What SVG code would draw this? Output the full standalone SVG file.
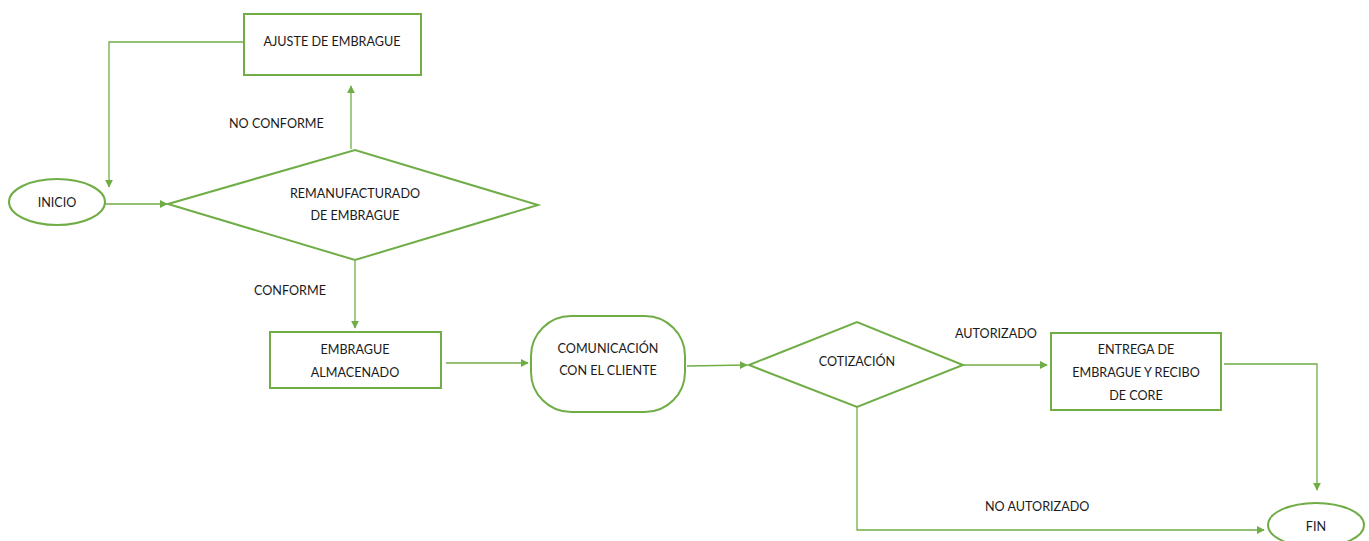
<svg xmlns="http://www.w3.org/2000/svg" width="1369" height="541" viewBox="0 0 1369 541">
<style>
.shape{fill:#fff;stroke:#70AD47;stroke-width:2}
.conn{fill:none;stroke:#70AD47;stroke-width:1.3}
text{font-family:Lato,"Open Sans","Liberation Sans",sans-serif;font-size:12.6px;fill:#1a1a1a;text-anchor:middle}
.lbl{text-anchor:start}
</style>
<defs>
<marker id="arr" viewBox="0 0 10 10" refX="9" refY="5" markerWidth="8" markerHeight="8" markerUnits="userSpaceOnUse" orient="auto">
<path d="M0,0 L10,5 L0,10 z" fill="#70AD47"/>
</marker>
</defs>
<rect width="1369" height="541" fill="#fff"/>
<g id="connectors">
<polyline class="conn" points="243,42 109,42 109,187" marker-end="url(#arr)"/>
<line class="conn" x1="105" y1="204" x2="167" y2="204" marker-end="url(#arr)"/>
<line class="conn" x1="351" y1="149" x2="351" y2="86" marker-end="url(#arr)"/>
<line class="conn" x1="355" y1="261" x2="355" y2="328" marker-end="url(#arr)"/>
<line class="conn" x1="446" y1="363" x2="528" y2="363" marker-end="url(#arr)"/>
<line class="conn" x1="687" y1="366" x2="747" y2="365" marker-end="url(#arr)"/>
<line class="conn" x1="963" y1="365" x2="1047" y2="365" marker-end="url(#arr)"/>
<polyline class="conn" points="1224,364 1317,364 1317,490" marker-end="url(#arr)"/>
<polyline class="conn" points="857,407 857,530 1264,530" marker-end="url(#arr)"/>
</g>
<g id="ajuste">
<rect class="shape" x="244" y="14" width="177" height="61"/>
<text x="332" y="46">AJUSTE DE EMBRAGUE</text>
</g>
<g id="inicio">
<ellipse class="shape" cx="57" cy="202" rx="48" ry="23"/>
<text x="57" y="207">INICIO</text>
</g>
<g id="remanufacturado">
<polygon class="shape" points="168,204 355,150 538,205 355,260"/>
<text x="355" y="198">REMANUFACTURADO</text>
<text x="355" y="220">DE EMBRAGUE</text>
</g>
<g id="lbl-noconforme"><text class="lbl" x="229" y="128">NO CONFORME</text></g>
<g id="lbl-conforme"><text class="lbl" x="254" y="295">CONFORME</text></g>
<g id="almacenado">
<rect class="shape" x="270" y="332" width="171" height="56"/>
<text x="355" y="354">EMBRAGUE</text>
<text x="355" y="377">ALMACENADO</text>
</g>
<g id="comunicacion">
<rect class="shape" x="531" y="316" width="154" height="96" rx="40" ry="40"/>
<text x="608" y="353">COMUNICACIÓN</text>
<text x="608" y="375">CON EL CLIENTE</text>
</g>
<g id="cotizacion">
<polygon class="shape" points="749,365 857,322 963,365 857,407"/>
<text x="857" y="366">COTIZACIÓN</text>
</g>
<g id="lbl-autorizado"><text class="lbl" x="955" y="338">AUTORIZADO</text></g>
<g id="entrega">
<rect class="shape" x="1051" y="333" width="170" height="77"/>
<text x="1136" y="354">ENTREGA DE</text>
<text x="1136" y="377">EMBRAGUE Y RECIBO</text>
<text x="1136" y="400">DE CORE</text>
</g>
<g id="lbl-noautorizado"><text class="lbl" x="985" y="511">NO AUTORIZADO</text></g>
<g id="fin">
<ellipse class="shape" cx="1316" cy="525" rx="48" ry="22"/>
<text x="1316" y="531">FIN</text>
</g>
</svg>
